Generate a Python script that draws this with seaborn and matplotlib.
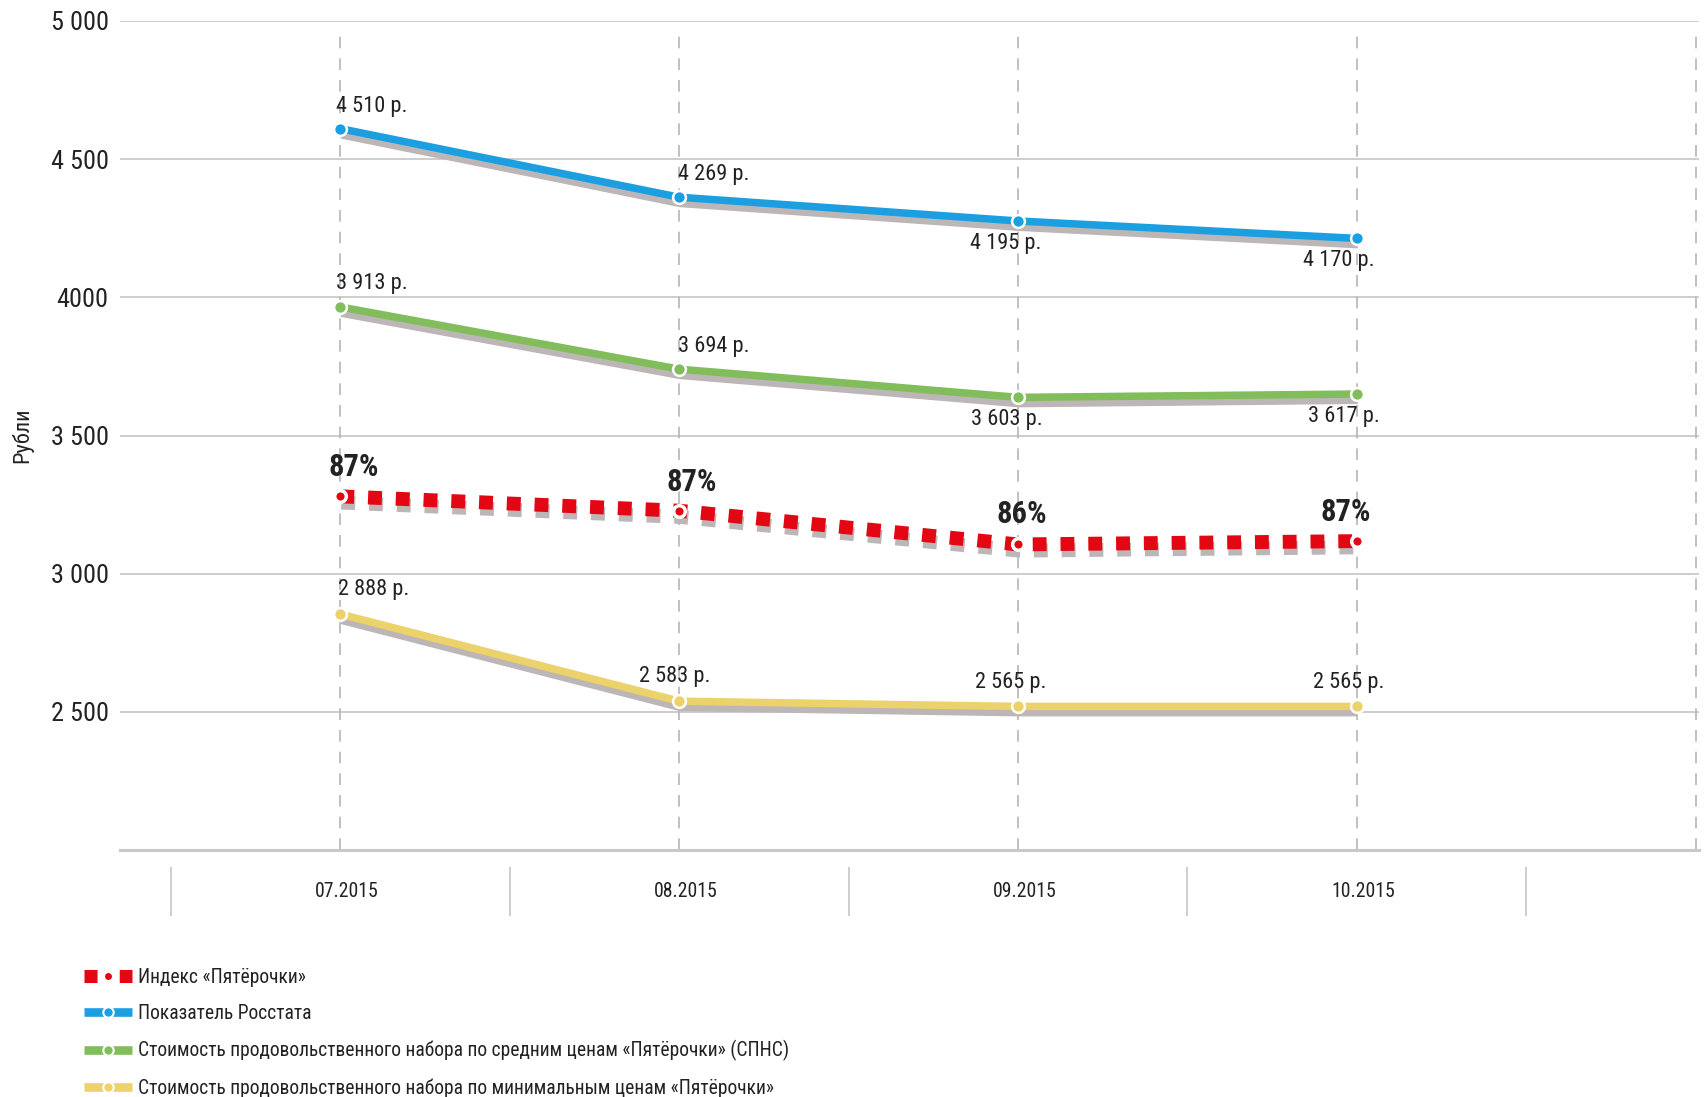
import matplotlib
matplotlib.use("Agg")
import matplotlib.pyplot as plt
import matplotlib.patheffects as pe
from matplotlib.lines import Line2D
from matplotlib import font_manager
import pandas as pd
import seaborn as sns

# ==========================================
# DATA
# ==========================================

months = ["07.2015", "08.2015", "09.2015", "10.2015"]
x_pos = [0, 1, 2, 3]

# values printed on the chart
rosstat_values = [4510, 4269, 4195, 4170]
spns_values = [3913, 3694, 3603, 3617]
minset_values = [2888, 2583, 2565, 2565]
index_values = [87, 87, 86, 87]

# where the lines sit on the rouble axis
rosstat_y = [4610, 4362, 4276, 4213]
spns_y = [3965, 3740, 3638, 3650]
index_y = [3280, 3228, 3106, 3118]
minset_y = [2854, 2539, 2520, 2520]

y_ticks = [2500, 3000, 3500, 4000, 4500, 5000]
y_ticklabels = ["2 500", "3 000", "3 500", "4000", "4 500", "5 000"]

legend_labels = [
    "Индекс «Пятёрочки»",
    "Показатель Росстата",
    "Стоимость продовольственного набора по средним ценам «Пятёрочки» (СПНС)",
    "Стоимость продовольственного набора по минимальным ценам «Пятёрочки»",
]

RED = "#e30613"
BLUE = "#1b9fe1"
GREEN = "#82bd5b"
YELLOW = "#ecd26a"
SHADOW = "#bdb6b6"
GRID = "#c9c9c9"
TEXT = "#222222"

# ==========================================
# FONT (narrow face if there is one)
# ==========================================

sns.set_theme(style="white")

names = {f.name for f in font_manager.fontManager.ttflist}
candidates = [
    ("Roboto Condensed", 0.92),
    ("Liberation Sans Narrow", 1.0),
    ("Open Sans Condensed", 0.95),
    ("Roboto", 0.82),
    ("DejaVu Sans", 0.78),
]
FONT, k = "DejaVu Sans", 0.78
for n, f in candidates:
    if n in names:
        FONT, k = n, f
        break

plt.rcParams["font.family"] = [FONT, "DejaVu Sans"]
plt.rcParams["text.color"] = TEXT


def rub(v):
    return f"{v:,}".replace(",", " ") + " р."


# ==========================================
# FIGURE
# ==========================================

fig = plt.figure(figsize=(17.05, 10.97), dpi=100)
ax = fig.add_axes([0.0702, 0.225, 0.9263, 0.756])

ax.set_xlim(-0.651, 4.01)
ax.set_ylim(2000, 5000)
ax.set_yticks(y_ticks)
ax.set_yticklabels(y_ticklabels, fontsize=20.5 * k, color=TEXT)
ax.tick_params(axis="y", length=0, pad=8)
ax.set_xticks([])
ax.grid(False)
for s in ["top", "right", "left"]:
    ax.spines[s].set_visible(False)
ax.spines["bottom"].set_color(GRID)
ax.spines["bottom"].set_linewidth(2.2)

for yt in y_ticks:
    ax.axhline(yt, color=GRID, lw=1.3, zorder=0)

ax.vlines(x_pos + [4.0], 2000, 4975, colors="#b5b5b5", lw=1.2,
          linestyles=(0, (7, 6)), zorder=0)

shadow = [pe.SimpleLineShadow(offset=(0.8, -4.5), shadow_color=SHADOW,
                              alpha=1.0),
          pe.Normal()]

for ys, c in [(rosstat_y, BLUE), (spns_y, GREEN), (minset_y, YELLOW)]:
    sns.lineplot(x=x_pos, y=ys, ax=ax, color=c, lw=5.4,
                 path_effects=shadow, zorder=3)
    ax.lines[-1].set_solid_capstyle("butt")

sns.lineplot(x=x_pos, y=index_y, ax=ax, color=RED, lw=10,
             path_effects=shadow, zorder=3)
ax.lines[-1].set_dashes((1, 1.0))
ax.lines[-1].set_dash_capstyle("butt")

for ys, c in [(rosstat_y, BLUE), (spns_y, GREEN), (minset_y, YELLOW)]:
    sns.scatterplot(x=x_pos, y=ys, ax=ax, color=c, s=85, edgecolor="white",
                    linewidth=1.8, zorder=5)
sns.scatterplot(x=x_pos, y=index_y, ax=ax, color=RED, s=70, edgecolor="white",
                linewidth=2.5, zorder=5)

# ==========================================
# DATA LABELS
# ==========================================

lab_fs = 17.5 * k
rosstat_off = [(23, 16), (25, 16), (-9, -16), (-13, -16)]
spns_off = [(23, 17), (25, 16), (-8, -16), (-9, -16)]
minset_off = [(24, 18), (-3, 18), (-5, 17), (-6, 17)]
index_off = [(10, 21), (9, 21), (3, 22), (-8, 21)]

for vals, ys, offs in [(rosstat_values, rosstat_y, rosstat_off),
                       (spns_values, spns_y, spns_off),
                       (minset_values, minset_y, minset_off)]:
    for x, y, v, o in zip(x_pos, ys, vals, offs):
        ax.annotate(rub(v), (x, y), xytext=o, textcoords="offset points",
                    ha="center", va="center", fontsize=lab_fs, color=TEXT,
                    zorder=6)

for x, y, v, o in zip(x_pos, index_y, index_values, index_off):
    ax.annotate(f"{v}%", (x, y), xytext=o, textcoords="offset points",
                ha="center", va="center", fontsize=24 * k, fontweight="bold",
                color=TEXT, zorder=6)

# ==========================================
# MONTH BAND
# ==========================================

band = fig.add_axes([0.0702, 0.165, 0.9263, 0.045])
band.set_xlim(ax.get_xlim())
band.set_ylim(0, 1)
band.axis("off")
band.vlines([p - 0.5 for p in x_pos] + [3.5], 0, 1, colors=GRID, lw=1.3)
for x, m in zip(x_pos, months):
    band.text(x + 0.02, 0.5, m, ha="center", va="center",
              fontsize=15.5 * k, color=TEXT)

fig.text(22 / 1705, 1 - 435 / 1097, "Рубли", rotation=90, ha="center",
         va="center", fontsize=17.5 * k, color=TEXT)

# ==========================================
# LEGEND
# ==========================================

leg_fs = 15.3 * k
fs_px = leg_fs * 100 / 72
handles = [
    Line2D([], [], color=RED, lw=9.4, dashes=(1, 1.7), dash_capstyle="butt",
           marker="o", markersize=6.5, markerfacecolor=RED,
           markeredgecolor="white", markeredgewidth=1.5),
]
for c in [BLUE, GREEN, YELLOW]:
    handles.append(Line2D([], [], color=c, lw=6.2, solid_capstyle="butt",
                          marker="o", markersize=7.5, markerfacecolor=c,
                          markeredgecolor="white", markeredgewidth=1.5))

fig.legend(handles, legend_labels, loc="center left",
           bbox_to_anchor=(84 / 1705, 1 - 1033 / 1097),
           frameon=False, fontsize=leg_fs, handlelength=48 / fs_px,
           handletextpad=0.3,
           labelspacing=(36.3 - 1.17 * fs_px) / fs_px + 0.2,
           borderpad=0, borderaxespad=0, numpoints=1, labelcolor=TEXT)

fig.savefig("out.png", dpi=100)
